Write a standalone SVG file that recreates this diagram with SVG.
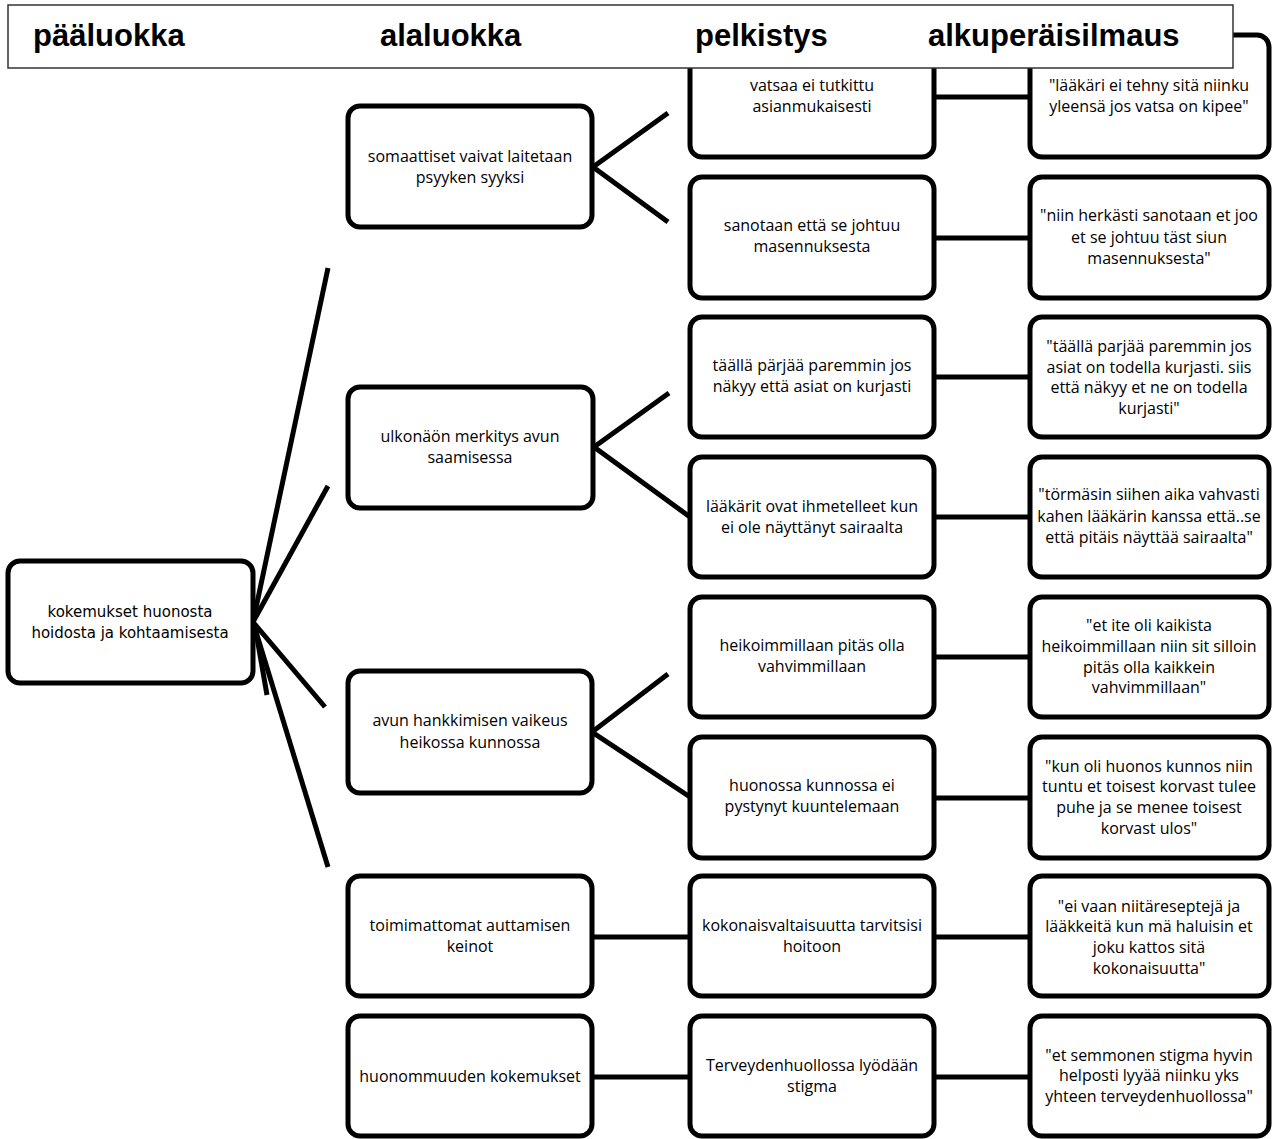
<svg xmlns="http://www.w3.org/2000/svg" width="1272" height="1139" viewBox="0 0 1272 1139">
<style>
.box{fill:#fff;stroke:#000;stroke-width:5}
.ln{stroke:#000;stroke-width:5;fill:none}
.t{font-family:"Open Sans","Liberation Sans",sans-serif;font-size:16px;fill:#000;text-anchor:middle}
.t0{font-family:"DejaVu Sans","Liberation Sans",sans-serif;font-size:15px;fill:#000;text-anchor:middle}
.h{font-family:"Liberation Sans",Arial,sans-serif;font-size:31px;font-weight:bold;fill:#000}
</style>
<rect width="1272" height="1139" fill="#fff"/>
<g id="connectors">
<line class="ln" x1="253" y1="622" x2="328" y2="268"/>
<line class="ln" x1="253" y1="622" x2="328" y2="486"/>
<line class="ln" x1="253" y1="622" x2="325" y2="707"/>
<line class="ln" x1="253" y1="622" x2="328" y2="867"/>
<line class="ln" x1="256" y1="632" x2="267" y2="695"/>
<polyline class="ln" points="668,113 593,167 668,222"/>
<polyline class="ln" points="669,393 594,447 690,517"/>
<polyline class="ln" points="668,674 592,732 690,797"/>
<line class="ln" x1="934" y1="97" x2="1030" y2="97"/>
<line class="ln" x1="934" y1="238" x2="1030" y2="238"/>
<line class="ln" x1="934" y1="377" x2="1030" y2="377"/>
<line class="ln" x1="934" y1="517" x2="1030" y2="517"/>
<line class="ln" x1="934" y1="657" x2="1030" y2="657"/>
<line class="ln" x1="934" y1="798" x2="1030" y2="798"/>
<line class="ln" x1="592" y1="937" x2="1030" y2="937"/>
<line class="ln" x1="592" y1="1077" x2="1030" y2="1077"/>
</g>
<g id="n-paa">
<rect class="box" x="8" y="561" width="245" height="122" rx="12"/>
<text class="t0" x="130" y="617">kokemukset huonosta</text>
<text class="t0" x="130" y="638">hoidosta ja kohtaamisesta</text>
</g>
<g id="n-a1">
<rect class="box" x="348" y="106" width="244" height="121" rx="12"/>
<text class="t" x="470" y="162">somaattiset vaivat laitetaan</text>
<text class="t" x="470" y="183">psyyken syyksi</text>
</g>
<g id="n-a2">
<rect class="box" x="348" y="387" width="245" height="121" rx="12"/>
<text class="t" x="470" y="442">ulkonäön merkitys avun</text>
<text class="t" x="470" y="463">saamisessa</text>
</g>
<g id="n-a3">
<rect class="box" x="348" y="671" width="244" height="122" rx="12"/>
<text class="t" x="470" y="726">avun hankkimisen vaikeus</text>
<text class="t" x="470" y="748">heikossa kunnossa</text>
</g>
<g id="n-a4">
<rect class="box" x="348" y="876" width="244" height="120" rx="12"/>
<text class="t" x="470" y="931">toimimattomat auttamisen</text>
<text class="t" x="470" y="952">keinot</text>
</g>
<g id="n-a5">
<rect class="box" x="348" y="1016" width="244" height="120" rx="12"/>
<text class="t" x="470" y="1082">huonommuuden kokemukset</text>
</g>
<g id="n-p1">
<rect class="box" x="690" y="35" width="244" height="122" rx="12"/>
<text class="t" x="812" y="91">vatsaa ei tutkittu</text>
<text class="t" x="812" y="112">asianmukaisesti</text>
</g>
<g id="n-p2">
<rect class="box" x="690" y="177" width="244" height="121" rx="12"/>
<text class="t" x="812" y="231">sanotaan että se johtuu</text>
<text class="t" x="812" y="252">masennuksesta</text>
</g>
<g id="n-p3">
<rect class="box" x="690" y="317" width="244" height="120" rx="12"/>
<text class="t" x="812" y="371">täällä pärjää paremmin jos</text>
<text class="t" x="812" y="392">näkyy että asiat on kurjasti</text>
</g>
<g id="n-p4">
<rect class="box" x="690" y="457" width="244" height="120" rx="12"/>
<text class="t" x="812" y="512">lääkärit ovat ihmetelleet kun</text>
<text class="t" x="812" y="533">ei ole näyttänyt sairaalta</text>
</g>
<g id="n-p5">
<rect class="box" x="690" y="597" width="244" height="120" rx="12"/>
<text class="t" x="812" y="651">heikoimmillaan pitäs olla</text>
<text class="t" x="812" y="672">vahvimmillaan</text>
</g>
<g id="n-p6">
<rect class="box" x="690" y="737" width="244" height="121" rx="12"/>
<text class="t" x="812" y="791">huonossa kunnossa ei</text>
<text class="t" x="812" y="812">pystynyt kuuntelemaan</text>
</g>
<g id="n-p7">
<rect class="box" x="690" y="876" width="244" height="120" rx="12"/>
<text class="t" x="812" y="931">kokonaisvaltaisuutta tarvitsisi</text>
<text class="t" x="812" y="952">hoitoon</text>
</g>
<g id="n-p8">
<rect class="box" x="690" y="1016" width="244" height="120" rx="12"/>
<text class="t" x="812" y="1071">Terveydenhuollossa lyödään</text>
<text class="t" x="812" y="1092">stigma</text>
</g>
<g id="n-o1">
<rect class="box" x="1030" y="35" width="239" height="122" rx="12"/>
<text class="t" x="1149" y="91">"lääkäri ei tehny sitä niinku</text>
<text class="t" x="1149" y="112">yleensä jos vatsa on kipee"</text>
</g>
<g id="n-o2">
<rect class="box" x="1030" y="177" width="239" height="121" rx="12"/>
<text class="t" x="1149" y="221">"niin herkästi sanotaan et joo</text>
<text class="t" x="1149" y="243">et se johtuu täst siun</text>
<text class="t" x="1149" y="264">masennuksesta"</text>
</g>
<g id="n-o3">
<rect class="box" x="1030" y="317" width="239" height="120" rx="12"/>
<text class="t" x="1149" y="352">"täällä parjää paremmin jos</text>
<text class="t" x="1149" y="373">asiat on todella kurjasti. siis</text>
<text class="t" x="1149" y="393">että näkyy et ne on todella</text>
<text class="t" x="1149" y="414">kurjasti"</text>
</g>
<g id="n-o4">
<rect class="box" x="1030" y="457" width="239" height="120" rx="12"/>
<text class="t" x="1149" y="500">"törmäsin siihen aika vahvasti</text>
<text class="t" x="1149" y="522">kahen lääkärin kanssa että..se</text>
<text class="t" x="1149" y="543">että pitäis näyttää sairaalta"</text>
</g>
<g id="n-o5">
<rect class="box" x="1030" y="597" width="239" height="120" rx="12"/>
<text class="t" x="1149" y="631">"et ite oli kaikista</text>
<text class="t" x="1149" y="652">heikoimmillaan niin sit silloin</text>
<text class="t" x="1149" y="673">pitäs olla kaikkein</text>
<text class="t" x="1149" y="693">vahvimmillaan"</text>
</g>
<g id="n-o6">
<rect class="box" x="1030" y="737" width="239" height="121" rx="12"/>
<text class="t" x="1149" y="772">"kun oli huonos kunnos niin</text>
<text class="t" x="1149" y="792">tuntu et toisest korvast tulee</text>
<text class="t" x="1149" y="813">puhe ja se menee toisest</text>
<text class="t" x="1149" y="834">korvast ulos"</text>
</g>
<g id="n-o7">
<rect class="box" x="1030" y="876" width="239" height="120" rx="12"/>
<text class="t" x="1149" y="912">"ei vaan niitäreseptejä ja</text>
<text class="t" x="1149" y="932">lääkkeitä kun mä haluisin et</text>
<text class="t" x="1149" y="953">joku kattos sitä</text>
<text class="t" x="1149" y="974">kokonaisuutta"</text>
</g>
<g id="n-o8">
<rect class="box" x="1030" y="1016" width="239" height="120" rx="12"/>
<text class="t" x="1149" y="1061">"et semmonen stigma hyvin</text>
<text class="t" x="1149" y="1081">helposti lyyää niinku yks</text>
<text class="t" x="1149" y="1102">yhteen terveydenhuollossa"</text>
</g>
<g id="header">
<rect x="8" y="5" width="1225" height="63" fill="#fff" stroke="#333" stroke-width="1.5"/>
<text class="h" x="33" y="46">pääluokka</text>
<text class="h" x="380" y="46">alaluokka</text>
<text class="h" x="695" y="46">pelkistys</text>
<text class="h" x="928" y="46">alkuperäisilmaus</text>
</g>
</svg>
